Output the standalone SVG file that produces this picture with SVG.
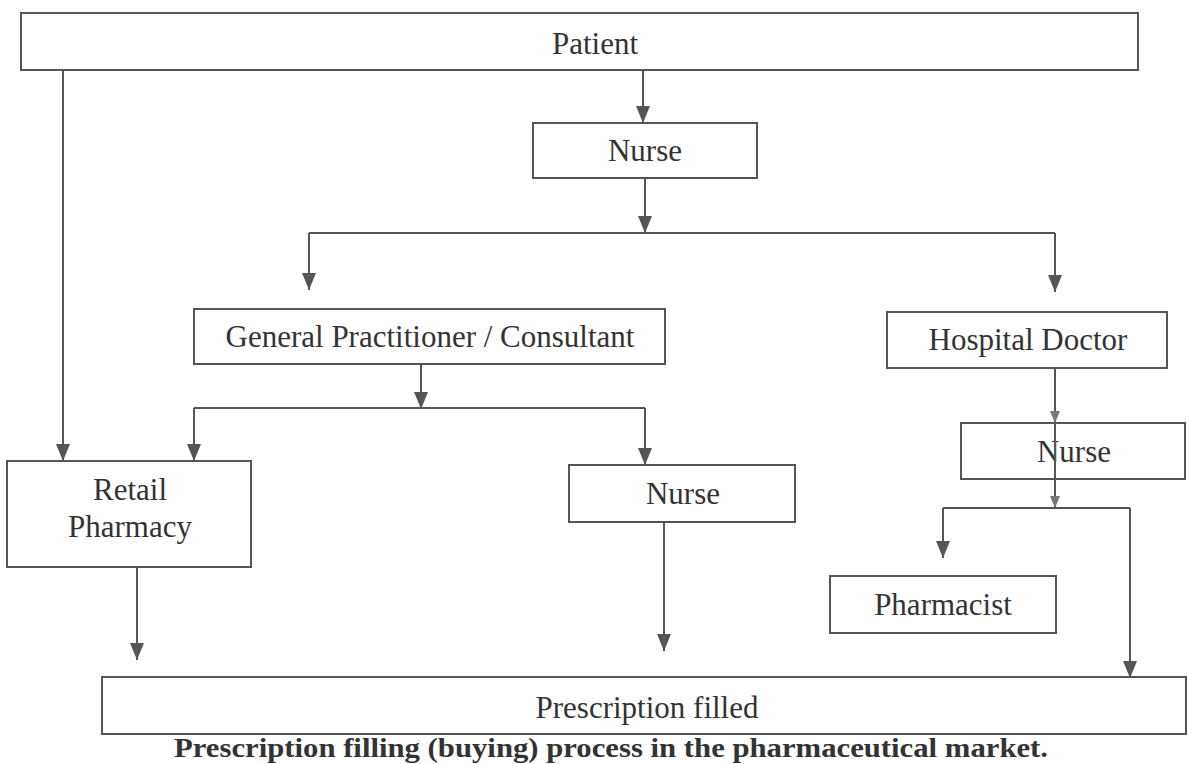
<svg xmlns="http://www.w3.org/2000/svg" width="1187" height="764" viewBox="0 0 1187 764">
<style>
.box{fill:#fff;stroke:#555;stroke-width:2}
.lbl{font-family:"Liberation Serif","Times New Roman",serif;font-size:31px;fill:#333;text-anchor:middle}
.cap{font-family:"Liberation Serif","Times New Roman",serif;font-size:27px;font-weight:bold;fill:#333;text-anchor:middle}
.ln{fill:none;stroke:#555;stroke-width:2}
</style>
<defs>
<marker id="ah" viewBox="0 0 14 17" refX="7" refY="17" markerWidth="14" markerHeight="17" markerUnits="userSpaceOnUse">
<path d="M0,0 L14,0 L7,17 Z" fill="#555"/>
</marker>
<marker id="ahs" viewBox="0 0 10 12" refX="5" refY="12" markerWidth="10" markerHeight="12" markerUnits="userSpaceOnUse">
<path d="M0,0 L10,0 L5,12 Z" fill="#777"/>
</marker>
</defs>
<rect width="1187" height="764" fill="#fff"/>
<g id="patient"><rect class="box" x="21" y="13" width="1117" height="57"/><text class="lbl" x="595" y="54">Patient</text></g>
<g id="nurse1"><rect class="box" x="533" y="123" width="224" height="55"/><text class="lbl" x="645" y="161">Nurse</text></g>
<g id="gp"><rect class="box" x="194" y="309" width="471" height="55"/><text class="lbl" x="430" y="347">General Practitioner / Consultant</text></g>
<g id="hospital-doctor"><rect class="box" x="887" y="312" width="280" height="56"/><text class="lbl" x="1028" y="350">Hospital Doctor</text></g>
<g id="retail-pharmacy"><rect class="box" x="7" y="461" width="244" height="106"/><text class="lbl" x="130" y="500">Retail</text><text class="lbl" x="130" y="537">Pharmacy</text></g>
<g id="nurse2"><rect class="box" x="569" y="465" width="226" height="57"/><text class="lbl" x="683" y="504">Nurse</text></g>
<g id="nurse3"><rect class="box" x="961" y="423" width="224" height="56"/><text class="lbl" x="1074" y="462">Nurse</text></g>
<g id="pharmacist"><rect class="box" x="830" y="576" width="226" height="57"/><text class="lbl" x="943" y="615">Pharmacist</text></g>
<g id="prescription-filled"><rect class="box" x="102" y="677" width="1084" height="57"/><text class="lbl" x="647" y="718">Prescription filled</text></g>
<g id="connectors">
<path class="ln" d="M643,70 V123" marker-end="url(#ah)"/>
<path class="ln" d="M645,178 V233" marker-end="url(#ah)"/>
<path class="ln" d="M309,233 H1055"/>
<path class="ln" d="M309,233 V290" marker-end="url(#ah)"/>
<path class="ln" d="M1055,233 V292" marker-end="url(#ah)"/>
<path class="ln" d="M63,70 V461" marker-end="url(#ah)"/>
<path class="ln" d="M421,364 V409" marker-end="url(#ah)"/>
<path class="ln" d="M194,408 H645"/>
<path class="ln" d="M194,408 V461" marker-end="url(#ah)"/>
<path class="ln" d="M645,408 V465" marker-end="url(#ah)"/>
<path class="ln" d="M137,567 V660" marker-end="url(#ah)"/>
<path class="ln" d="M664,522 V651" marker-end="url(#ah)"/>
<path class="ln" d="M1055,368 V423" marker-end="url(#ahs)"/>
<path class="ln" d="M1055,423 V508" marker-end="url(#ahs)"/>
<path class="ln" d="M943,508 H1130"/>
<path class="ln" d="M943,508 V558" marker-end="url(#ah)"/>
<path class="ln" d="M1130,508 V678" marker-end="url(#ah)"/>
</g>
<text class="cap" x="611" y="757" textLength="874" lengthAdjust="spacingAndGlyphs">Prescription filling (buying) process in the pharmaceutical market.</text>
</svg>
